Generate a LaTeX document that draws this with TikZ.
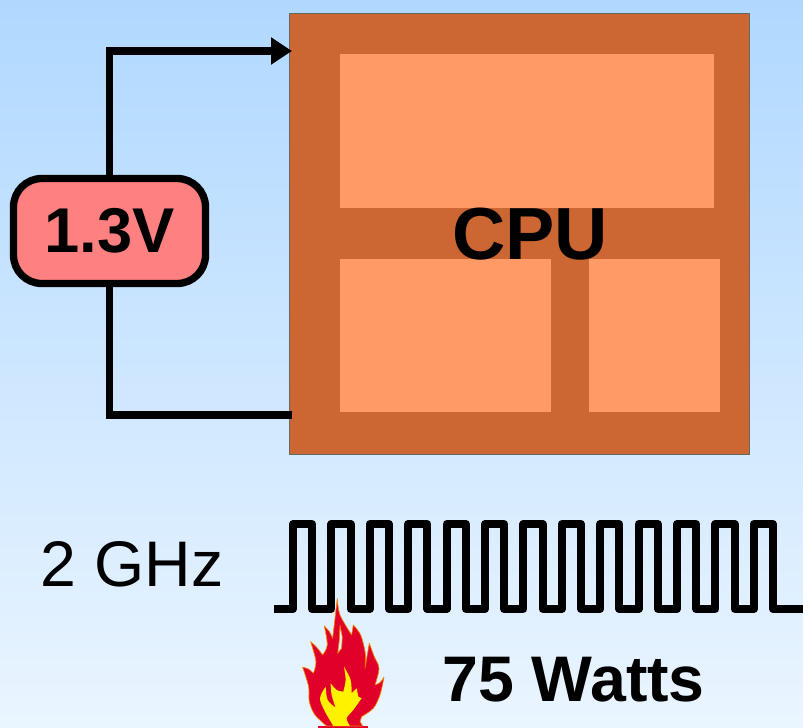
\documentclass[tikz,border=0pt]{standalone}
\usepackage{fontspec}
\setmainfont{Liberation Sans}
\usetikzlibrary{arrows.meta}
\definecolor{sky}{HTML}{B0D8FF}
\definecolor{pale}{HTML}{EAF5FF}
\definecolor{die}{HTML}{CC6633}
\definecolor{unit}{HTML}{FF9966}
\definecolor{supply}{HTML}{FF8080}
\definecolor{flame}{HTML}{E0002A}
\definecolor{flameedge}{HTML}{F08000}
\tikzstyle{cpubox} = [rectangle, draw=black!60, line width=0.03cm, fill=die, minimum width=13.8cm, minimum height=13.23cm]
\tikzstyle{unitbox} = [rectangle, fill=unit, inner sep=0pt]
\tikzstyle{vddbox} = [rectangle, rounded corners=0.85cm, draw=black, line width=0.22cm, fill=supply, minimum width=5.76cm, minimum height=3.15cm, inner sep=0pt, font=\bfseries\fontsize{54}{54}\selectfont]
\tikzstyle{cpubold} = [inner sep=0pt, font=\bfseries\fontsize{63}{63}\selectfont]
\tikzstyle{bigbold} = [inner sep=0pt, font=\bfseries\fontsize{55}{55}\selectfont]
\tikzstyle{bigplain} = [inner sep=0pt, font=\fontsize{55}{55}\selectfont]
\tikzstyle{wire} = [line width=0.23cm]
\tikzstyle{arrow} = [wire, -{Triangle[length=0.63cm,width=0.78cm]}]
\tikzstyle{clock} = [line width=0.24cm, line join=round]
\tikzstyle{lick} = [smooth, tension=0.55]

\begin{document}
\begin{tikzpicture}[x=0.03cm, y=-0.03cm]
  \useasboundingbox (0,0) rectangle (803,728);
  \shade [top color=sky, bottom color=pale] (0,0) rectangle (803,728);

  \node (cpu) [cpubox] at (519.5,234) {};
  \node (cache) [unitbox, minimum width=11.22cm, minimum height=4.62cm] at (527,131) {};
  \node (alu) [unitbox, minimum width=6.33cm, minimum height=4.59cm] at (445.5,335.5) {};
  \node (fpu) [unitbox, minimum width=3.93cm, minimum height=4.59cm] at (654.5,335.5) {};
  \node (cpulabel) [cpubold] at (530,234) {CPU};

  \coordinate (cpuin) at (292,51);
  \coordinate (cpuout) at (292,415);
  \node (vdd) [vddbox] at (109.5,231) {1.3V};
  \draw [arrow] (vdd.north) |- (cpuin);
  \draw [wire] (vdd.south) |- (cpuout);

  \node (freq) [bigplain] at (132,564) {2 GHz};
  \coordinate (clkin) at (274,609);
  \coordinate (clkout) at (803,609);
  % thirteen pulses
  \draw [clock] (clkin) -- ++(19,0)
    \foreach \i in {1,...,13} { -- ++(0,-85) -- ++(19.2,0) -- ++(0,85) -- ++(19.2,0) }
    -- (clkout);

  \node (watts) [bigbold] at (573.5,680) {75 Watts};

  % fire
  \begin{scope}[shift={(290,590)}, x=0.01cm, y=-0.01cm]
    \fill [flame] (85,408) rectangle (233,416);
    \draw [flameedge, line width=0.02cm, fill=flame, even odd rule, line join=round]
      plot [lick] coordinates {(110,408) (75,375) (58,335) (56,290) (38,232)}
      -- plot [lick] coordinates {(38,232) (55,237) (70,250)}
      -- plot [lick] coordinates {(70,250) (78,215) (62,155)}
      -- plot [lick] coordinates {(62,155) (80,172) (98,195)}
      -- plot [lick] coordinates {(98,195) (112,165) (103,108)}
      -- plot [lick] coordinates {(103,108) (118,125) (128,145)}
      -- plot [lick] coordinates {(128,145) (134,95) (142,25)}
      -- plot [lick] coordinates {(142,25) (150,75) (185,135)}
      -- plot [lick] coordinates {(185,135) (190,105)}
      -- plot [lick] coordinates {(190,105) (212,135) (226,190) (225,235)}
      -- plot [lick] coordinates {(225,235) (232,195) (238,160)}
      -- plot [lick] coordinates {(238,160) (252,198) (267,235) (255,285)}
      -- plot [lick] coordinates {(255,285) (270,278) (282,262)}
      -- plot [lick] coordinates {(282,262) (270,315) (250,355) (215,380)}
      -- (210,395) -- (218,408) -- cycle
      (150,105) -- (157,140) -- (155,175) -- (143,190) -- (148,150) -- cycle;
    \fill [yellow]
      plot [lick] coordinates {(130,408) (105,365) (90,325) (107,290)}
      -- plot [lick] coordinates {(107,290) (113,330) (137,353)}
      -- plot [lick] coordinates {(137,353) (125,315) (122,280)}
      -- plot [lick] coordinates {(122,280) (140,300) (160,305)}
      -- plot [lick] coordinates {(160,305) (167,270) (162,230)}
      -- plot [lick] coordinates {(162,230) (182,270) (185,310)}
      -- (200,295) -- (205,320) -- (215,325)
      -- plot [lick] coordinates {(215,325) (190,360) (170,385) (180,408)} -- cycle;
  \end{scope}
\end{tikzpicture}
\end{document}
